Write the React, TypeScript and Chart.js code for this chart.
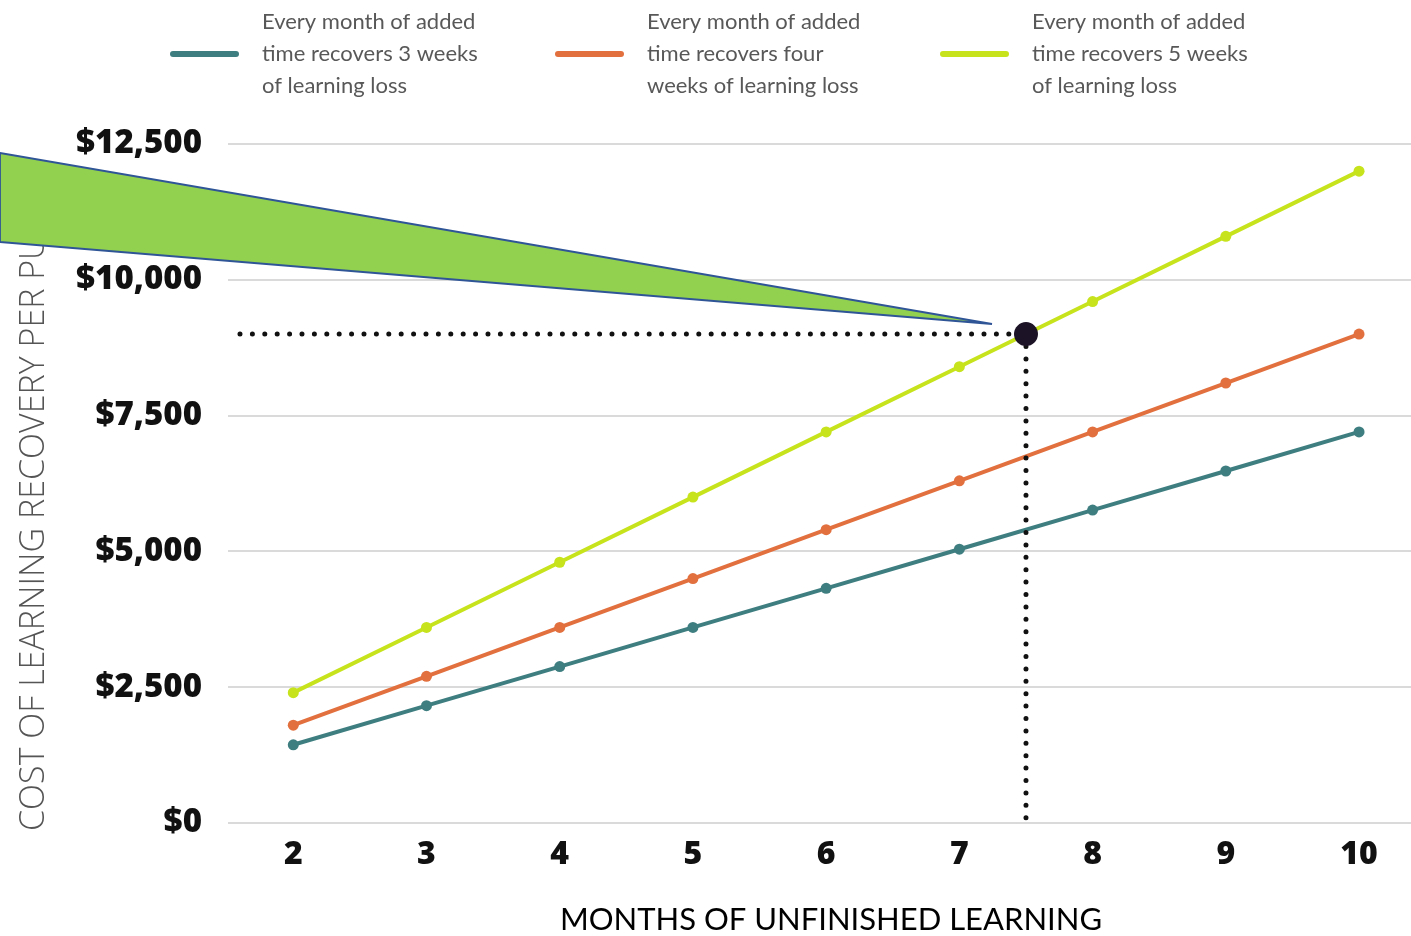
import React, { useEffect, useRef } from "react";
import { Chart, registerables } from "chart.js";

Chart.register(...registerables);

const months = [2, 3, 4, 5, 6, 7, 8, 9, 10];
const recovers3Weeks = [1440, 2160, 2880, 3600, 4320, 5040, 5760, 6480, 7200];
const recovers4Weeks = [1800, 2700, 3600, 4500, 5400, 6300, 7200, 8100, 9000];
const recovers5Weeks = [2400, 3600, 4800, 6000, 7200, 8400, 9600, 10800, 12000];
const yTicks = [0, 2500, 5000, 7500, 10000, 12500];

const highlightMonth = 7.5;
const highlightCost = 9000;
const dottedStartMonth = 1.6;

const seriesColors = ["#3f7e80", "#e2703f", "#c6e31c"];
const legendLines = [
  ["Every month of added", "time recovers 3 weeks", "of learning loss"],
  ["Every month of added", "time recovers four", "weeks of learning loss"],
  ["Every month of added", "time recovers 5 weeks", "of learning loss"],
];
const xTitle = "MONTHS OF UNFINISHED LEARNING";
const yTitle = "COST OF LEARNING RECOVERY PER PUPIL";

const overlayPlugin = {
  id: "overlay",
  afterDraw(chart: any) {
    const ctx = chart.ctx as CanvasRenderingContext2D;
    ctx.save();
    // legend
    const legendX = [170, 555, 940];
    legendX.forEach((lx, i) => {
      ctx.strokeStyle = seriesColors[i];
      ctx.lineWidth = 6;
      ctx.lineCap = "round";
      ctx.beginPath();
      ctx.moveTo(lx + 3, 54);
      ctx.lineTo(lx + 66, 54);
      ctx.stroke();
      ctx.fillStyle = "#585858";
      ctx.font = "22px Lato";
      ctx.textAlign = "left";
      ctx.textBaseline = "middle";
      legendLines[i].forEach((t, j) => {
        ctx.fillText(t, lx + 92, 22 + j * 32);
      });
    });
    // x title
    ctx.fillStyle = "#000000";
    ctx.font = "31px Lato";
    ctx.textAlign = "center";
    ctx.textBaseline = "middle";
    ctx.fillText(xTitle, 831, 920);
    // y title (top part hidden behind callout)
    ctx.save();
    ctx.beginPath();
    ctx.rect(0, 200, 80, 736);
    ctx.clip();
    ctx.translate(34, 831);
    ctx.rotate(-Math.PI / 2);
    ctx.fillStyle = "#555555";
    ctx.font = "300 34px 'Open Sans'";
    ctx.textAlign = "left";
    ctx.textBaseline = "middle";
    ctx.fillText(yTitle, 0, 0);
    ctx.restore();
    // callout triangle
    ctx.beginPath();
    ctx.moveTo(0, 153);
    ctx.lineTo(992, 324);
    ctx.lineTo(0, 242);
    ctx.closePath();
    ctx.fillStyle = "#92d050";
    ctx.fill();
    ctx.strokeStyle = "#2f5597";
    ctx.lineWidth = 1.8;
    ctx.lineJoin = "miter";
    ctx.stroke();
    ctx.restore();
  },
};

export default function App() {
  const ref = useRef<HTMLCanvasElement | null>(null);
  useEffect(() => {
    if (!ref.current) return;
    const mk = (vals: number[]) => months.map((m, i) => ({ x: m, y: vals[i] }));
    const chart = new Chart(ref.current, {
      type: "line",
      data: {
        datasets: [
          {
            label: "highlight",
            data: [{ x: highlightMonth, y: highlightCost }],
            pointRadius: 12,
            pointBackgroundColor: "#1d1326",
            pointBorderWidth: 0,
            showLine: false,
            order: 0,
          } as any,
          {
            label: "hline",
            data: [
              { x: dottedStartMonth, y: highlightCost },
              { x: highlightMonth, y: highlightCost },
            ],
            borderColor: "#111111",
            borderWidth: 5,
            borderDash: [0, 12.4],
            borderCapStyle: "round",
            pointRadius: 0,
            order: 1,
          },
          {
            label: "vline",
            data: [
              { x: highlightMonth, y: highlightCost },
              { x: highlightMonth, y: 0 },
            ],
            borderColor: "#111111",
            borderWidth: 5,
            borderDash: [0, 12.4],
            borderCapStyle: "round",
            pointRadius: 0,
            order: 1,
          },
          ...[recovers3Weeks, recovers4Weeks, recovers5Weeks].map((vals, i) => ({
            label: legendLines[i].join(" "),
            data: mk(vals),
            borderColor: seriesColors[i],
            backgroundColor: seriesColors[i],
            pointBackgroundColor: seriesColors[i],
            pointBorderWidth: 0,
            pointRadius: 5.5,
            borderWidth: 4,
            order: 2,
          })),
        ],
      },
      options: {
        animation: false,
        responsive: false,
        devicePixelRatio: 1,
        layout: { autoPadding: false, padding: { top: 144, left: 0, right: 0, bottom: 0 } },
        plugins: { legend: { display: false }, tooltip: { enabled: false } },
        scales: {
          x: {
            type: "linear",
            min: 1.51,
            max: 10.39,
            afterBuildTicks: (s: any) => {
              s.ticks = months.map((v) => ({ value: v }));
            },
            afterFit: (s: any) => {
              s.height = 113;
              s.paddingLeft = 0;
              s.paddingRight = 0;
            },
            grid: { display: false, drawTicks: false },
            border: { display: false },
            ticks: {
              padding: 13,
              color: "#111111",
              font: { family: "'Open Sans'", size: 32, weight: "800" },
              callback: (v: any) => String(v),
            },
          },
          y: {
            min: 0,
            max: 12500,
            afterBuildTicks: (s: any) => {
              s.ticks = yTicks.map((v) => ({ value: v }));
            },
            afterFit: (s: any) => {
              s.width = 228;
              s.paddingTop = 0;
              s.paddingBottom = 0;
            },
            grid: { color: "#dadada", lineWidth: 2, drawTicks: false },
            border: { display: false },
            ticks: {
              padding: 26,
              color: "#111111",
              font: { family: "'Open Sans'", size: 33, weight: "800" },
              callback: (v: any) => "$" + Number(v).toLocaleString("en-US"),
            },
          },
        },
      },
      plugins: [overlayPlugin],
    });
    return () => chart.destroy();
  }, []);
  return (
    <div style={{ position: "absolute", left: 0, top: 0, width: 1411, height: 936, background: "#fff" }}>
      <canvas ref={ref} width={1411} height={936} style={{ display: "block" }} />
    </div>
  );
}
